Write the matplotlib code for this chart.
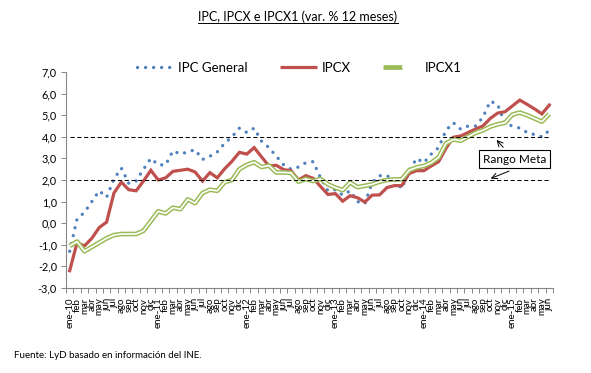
import matplotlib
matplotlib.use('Agg')
import matplotlib.pyplot as plt
from matplotlib.lines import Line2D
from matplotlib.legend_handler import HandlerTuple
import numpy as np

plt.rcParams['font.family'] = ['Lato', 'DejaVu Sans']

months = ['ene', 'feb', 'mar', 'abr', 'may', 'jun', 'jul', 'ago', 'sep', 'oct', 'nov', 'dic']
years = ['10', '11', '12', '13', '14', '15']
n_points = 66
labels = [(m + '-' + y) if m == 'ene' else m for y in years for m in months][:n_points]

ipc = [-1.3, 0.2, 0.5, 1.0, 1.5, 1.2, 2.05, 2.55, 1.85, 1.95, 2.5, 3.0,
       2.7, 2.7, 3.35, 3.2, 3.3, 3.4, 2.95, 3.1, 3.3, 3.7, 4.0, 4.4,
       4.2, 4.4, 3.8, 3.5, 3.1, 2.7, 2.5, 2.6, 2.8, 2.85, 2.1, 1.5,
       1.55, 1.3, 1.5, 1.0, 0.9, 1.9, 2.2, 2.2, 2.0, 1.6, 2.4, 3.0,
       2.8, 3.2, 3.5, 4.3, 4.65, 4.35, 4.5, 4.5, 4.9, 5.65, 5.5, 4.6,
       4.5, 4.4, 4.2, 4.1, 4.0, 4.3]

ipcx = [-2.2, -0.9, -1.05, -0.7, -0.2, 0.05, 1.4, 1.9, 1.55, 1.5, 1.95, 2.45,
        2.0, 2.1, 2.4, 2.45, 2.5, 2.37, 1.95, 2.34, 2.1, 2.52, 2.87, 3.28,
        3.2, 3.5, 3.07, 2.65, 2.68, 2.48, 2.43, 2.0, 2.2, 2.08, 1.7, 1.33,
        1.37, 1.02, 1.27, 1.18, 0.98, 1.3, 1.31, 1.65, 1.74, 1.74, 2.3, 2.43,
        2.43, 2.65, 2.85, 3.47, 3.98, 4.04, 4.2, 4.36, 4.5, 4.85, 5.1, 5.16,
        5.43, 5.7, 5.5, 5.29, 5.06, 5.47]

ipcx1 = [-1.05, -0.85, -1.3, -1.1, -0.9, -0.7, -0.55, -0.5, -0.5, -0.5, -0.35, 0.1,
         0.55, 0.45, 0.72, 0.65, 1.1, 0.93, 1.4, 1.55, 1.5, 1.9, 2.0, 2.5,
         2.7, 2.82, 2.6, 2.67, 2.35, 2.35, 2.33, 1.92, 2.05, 1.95, 2.05, 1.8,
         1.65, 1.53, 1.88, 1.67, 1.73, 1.8, 1.92, 2.0, 2.03, 2.03, 2.45, 2.58,
         2.65, 2.8, 3.05, 3.7, 3.88, 3.82, 4.0, 4.18, 4.3, 4.47, 4.58, 4.65,
         5.03, 5.12, 5.0, 4.85, 4.7, 5.06]

meta_high = 4.0
meta_low = 2.0

c_blue = '#4F81BD'
c_red = '#C0504D'
c_green = '#9BBB59'
c_axis = '#868686'

fig = plt.figure(figsize=(5.91, 3.73), dpi=100)
ax = fig.add_axes([66/591, 1-288/373, (553-66)/591, (288-72)/373])

x = np.arange(n_points)

l_ipc, = ax.plot(x, ipc, color=c_blue, lw=2.4, linestyle=(0, (0.01, 2.4)),
                 dash_capstyle='round', solid_capstyle='round')
l_ipcx, = ax.plot(x, ipcx, color=c_red, lw=2.3, solid_joinstyle='miter')
l_g1, = ax.plot(x, ipcx1, color=c_green, lw=3.4, solid_capstyle='butt')
l_g2, = ax.plot(x, ipcx1, color='white', lw=1.2, solid_capstyle='butt')

ax.plot(x, [meta_high] * n_points, color='black', lw=0.75, linestyle=(0, (4, 2.5)))
ax.plot(x, [meta_low] * n_points, color='black', lw=0.75, linestyle=(0, (4, 2.5)))

ax.set_xlim(-0.5, n_points - 0.5)
ax.set_ylim(-3, 7)
ax.set_yticks(range(-3, 8))
ax.set_yticklabels([f'{v:.1f}'.replace('.', ',') for v in range(-3, 8)], fontsize=7.8)
ax.set_xticks(x)
ax.set_xticklabels(labels, rotation=90, fontsize=7.0, va='top', ha='center')
ax.set_xticks(np.arange(-0.5, n_points, 1), minor=True)
ax.tick_params(axis='x', which='major', length=0, pad=7)
ax.tick_params(axis='x', which='minor', length=3.5, color=c_axis, width=0.7, direction='out')
ax.tick_params(axis='y', length=3.5, color=c_axis, width=0.7, pad=3)

for s in ['top', 'right']:
    ax.spines[s].set_visible(False)
for s in ['left', 'bottom']:
    ax.spines[s].set_color(c_axis)
    ax.spines[s].set_linewidth(0.8)

# Rango Meta annotation
ax.text(60.3, 2.96, 'Rango Meta', fontsize=8.5, ha='center', va='center',
        bbox=dict(boxstyle='square,pad=0.3', fc='white', ec='black', lw=0.8))
ax.annotate('', xy=(57.6, 3.95), xytext=(59.0, 3.42),
            arrowprops=dict(arrowstyle='->', color='black', lw=0.7))
ax.annotate('', xy=(56.7, 2.02), xytext=(59.9, 2.46),
            arrowprops=dict(arrowstyle='->', color='black', lw=0.7))

# legend
h_ipc = Line2D([], [], color=c_blue, lw=2.4, linestyle=(0, (0.01, 2.4)), dash_capstyle='round')
h_ipcx = Line2D([], [], color=c_red, lw=2.3, solid_capstyle='butt')
h_g1 = Line2D([], [], color=c_green, lw=3.4, solid_capstyle='butt')
h_g2 = Line2D([], [], color='white', lw=1.2, solid_capstyle='butt')
fig.legend([h_ipc, h_ipcx, (h_g1, h_g2)], ['IPC General', 'IPCX', 'IPCX1'],
           handler_map={tuple: HandlerTuple(ndivide=None, pad=0)},
           loc='center', bbox_to_anchor=(299/591, 1-68/373), ncol=3, frameon=False,
           fontsize=9.5, handlelength=2.8, handletextpad=0.3, columnspacing=2.5)

t = fig.text(298/591, 1-17/373, 'IPC, IPCX e IPCX1 (var. % 12 meses)', fontsize=9,
             ha='center', va='center')
# underline for title
fig.canvas.draw()
bb = t.get_window_extent()
fig.add_artist(Line2D([bb.x0/fig.bbox.width, bb.x1/fig.bbox.width],
                      [(bb.y0 + 0.5)/fig.bbox.height]*2, color='black', lw=0.7))

fig.text(14/591, 1-355/373, 'Fuente: LyD basado en información del INE.', fontsize=7,
         ha='left', va='center')

fig.savefig('out.png', dpi=100)
